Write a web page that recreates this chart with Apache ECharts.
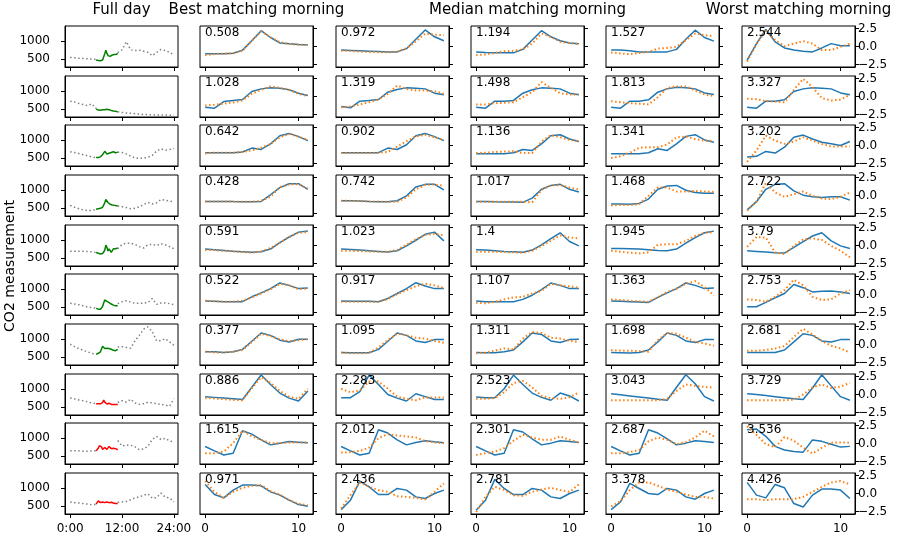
<!DOCTYPE html>
<html>
<head>
<meta charset="utf-8">
<script src="https://cdn.jsdelivr.net/npm/echarts@6/dist/echarts.min.js"></script>
<style>
html, body { margin: 0; padding: 0; background: #ffffff; }
#chart { width: 898px; height: 539px; }
</style>
</head>
<body>
<div id="chart"></div>
<script>
// ---------- column headings and axis text ----------
const columnTitles = ['Full day', 'Best matching morning', 'Median matching morning', 'Worst matching morning'];
const yAxisTitle = 'CO2 measurement';

// ---------- time grids ----------
const dayHours = [0, 1, 2, 3, 4, 5, 6, 7, 8, 9, 10, 11, 12, 13, 14, 15, 16, 17, 18, 19, 20, 21, 22, 23, 24];
const morningTimes = [6, 6.25, 6.5, 6.75, 7, 7.25, 7.5, 7.75, 8, 8.25, 8.5, 8.75, 9, 9.25, 9.5, 9.75, 10, 10.25, 10.5, 10.75, 11];
const morningSteps = [0, 1, 2, 3, 4, 5, 6, 7, 8, 9, 10, 11];
const dayTickHours = [0, 12, 24];
const dayTickCo2 = [500, 1000];
const stepTicks = [0, 10];
const scoreTicks = [-2.5, 0, 2.5];

// ---------- distance scores (best, 2 x median, worst) ----------
const scores = [
  ['0.508', '0.972', '1.194', '1.527', '2.544'],
  ['1.028', '1.319', '1.498', '1.813', '3.327'],
  ['0.642', '0.902', '1.136', '1.341', '3.202'],
  ['0.428', '0.742', '1.017', '1.468', '2.722'],
  ['0.591', '1.023', '1.4', '1.945', '3.79'],
  ['0.522', '0.917', '1.107', '1.363', '2.753'],
  ['0.377', '1.095', '1.311', '1.698', '2.681'],
  ['0.886', '2.283', '2.523', '3.043', '3.729'],
  ['1.615', '2.012', '2.301', '2.687', '3.536'],
  ['0.971', '2.436', '2.781', '3.378', '4.426']
];

// morning colour per day: green = good match, red = poor match
const morningColors = ['green', 'green', 'green', 'green', 'green', 'green', 'green', 'red', 'red', 'red'];

// ---------- full-day CO2 (hourly, morning gap) and morning detail (15 min) ----------
const day1Gray = [550, 540, 530, 525, 515, 505, 495, null, null, null, null, 680, 760, 980, 760, 740, 750, 720, 690, 600, 690, 770, 740, 690, 620];
const day1Morning = [480, 475, 470, 465, 460, 470, 480, 520, 650, 750, 660, 600, 580, 580, 600, 620, 640, 630, 620, 640, 660];
const day2Gray = [720, 700, 660, 630, 600, 650, 520, null, null, null, null, 430, 415, 400, 390, 380, 370, 360, 355, 350, 345, 345, 345, 340, 340];
const day2Morning = [510, 490, 480, 470, 475, 480, 485, 490, 490, 495, 500, 495, 490, 480, 470, 460, 455, 450, 445, 435, 430];
const day3Gray = [680, 660, 630, 600, 570, 540, 520, null, null, null, null, 670, 660, 620, 560, 510, 500, 500, 530, 580, 700, 760, 720, 740, 770];
const day3Morning = [520, 515, 520, 530, 540, 560, 600, 650, 690, 670, 620, 600, 640, 680, 660, 640, 680, 670, 650, 660, 670];
const day4Gray = [580, 530, 490, 455, 440, 440, 470, null, null, null, null, 560, 545, 520, 490, 500, 540, 600, 660, 620, 650, 740, 720, 700, 670];
const day4Morning = [475, 480, 490, 495, 500, 510, 530, 560, 650, 740, 720, 660, 620, 610, 600, 590, 590, 580, 575, 570, 560];
const day5Gray = [690, 690, 690, 690, 685, 680, 660, null, null, null, null, 760, 880, 910, 910, 880, 820, 780, 870, 880, 850, 900, 870, 820, 760];
const day5Morning = [660, 650, 640, 630, 620, 625, 630, 620, 720, 860, 800, 700, 760, 720, 660, 700, 760, 800, 760, 740, 780];
const day6Gray = [610, 590, 570, 540, 510, 490, 475, null, null, null, null, 600, 650, 680, 640, 610, 610, 610, 630, 740, 580, 620, 620, 600, 570];
const day6Morning = [470, 460, 450, 445, 450, 480, 520, 620, 700, 710, 660, 650, 630, 620, 590, 570, 560, 550, 540, 540, 540];
const day7Gray = [860, 790, 740, 690, 650, 610, 580, null, null, null, null, 780, 790, 770, 750, 950, 1100, 1270, 1330, 1200, 950, 960, 1010, 920, 830];
const day7Morning = [580, 590, 610, 630, 650, 700, 800, 760, 740, 770, 750, 720, 740, 740, 720, 700, 690, 680, 680, 700, 720];
const day8Gray = [760, 730, 700, 680, 650, 620, 600, null, null, null, null, 630, 680, 640, 720, 620, 580, 600, 640, 620, 600, 580, 560, 530, 740];
const day8Morning = [600, 600, 595, 590, 595, 610, 630, 700, 640, 600, 590, 580, 610, 600, 580, 575, 580, 585, 575, 575, 580];
const day9Gray = [655, 655, 650, 640, 640, 645, 655, null, null, null, null, 930, 780, 810, 800, 760, 680, 700, 780, 960, 1040, 960, 990, 920, 890];
const day9Morning = [650, 680, 720, 790, 840, 760, 690, 700, 740, 720, 690, 720, 770, 740, 710, 700, 720, 720, 710, 690, 680];
const day10Gray = [620, 600, 590, 575, 560, 545, 550, null, null, null, null, 610, 620, 630, 680, 730, 760, 800, 840, 720, 740, 860, 750, 730, 620];
const day10Morning = [560, 600, 650, 620, 600, 610, 620, 610, 600, 610, 620, 610, 600, 610, 610, 600, 590, 580, 575, 570, 575];

// ---------- normalised mornings: solid = this day, dotted = matched day ----------
const match1Solid = [
  [-1.0, -1.0, -1.0, -0.95, -0.5, 0.8, 2.2, 1.25, 0.5, 0.37, 0.28, 0.2],
  [-0.5, -0.55, -0.6, -0.65, -0.7, -0.75, -0.75, -0.3, 1.0, 2.3, 1.35, 0.8],
  [-0.75, -0.83, -0.87, -0.88, -0.88, -0.4, 0.9, 2.2, 1.35, 0.8, 0.5, 0.37],
  [-0.5, -0.5, -0.6, -0.75, -0.75, -0.75, -0.75, -0.4, 1.0, 2.27, 1.25, 0.75],
  [-1.9, 0.4, 2.36, 0.65, -0.2, -0.5, -0.65, -0.75, -0.2, 0.4, 0.1, 0.1]
];
const match1Dotted = [
  [-1.2, -1.05, -1.0, -0.95, -0.6, 0.8, 2.1, 1.3, 0.6, 0.35, 0.25, 0.2],
  [-0.6, -0.6, -0.7, -0.75, -0.8, -0.8, -0.7, -0.25, 0.7, 1.8, 1.65, 1.55],
  [-1.2, -1.1, -0.9, -0.65, -0.6, -0.4, 0.4, 1.8, 1.35, 0.65, 0.5, 0.3],
  [-0.83, -0.97, -1.07, -0.9, -0.75, -0.3, -0.2, -0.05, 0.9, 1.8, 1.57, 1.45],
  [-2.1, 0.3, 2.2, 0.9, 0.05, 0.4, 0.75, 0.4, -0.5, -0.5, -0.05, 0.4]
];
const match2Solid = [
  [-1.48, -1.62, -0.7, -0.55, -0.42, 0.7, 1.06, 1.2, 1.15, 0.93, 0.46, 0.14],
  [-1.4, -1.57, -0.65, -0.55, -0.42, 0.6, 0.97, 1.2, 1.15, 1.06, 0.46, 0.23],
  [-1.5, -1.62, -0.65, -0.65, -0.55, 0.46, 0.93, 1.2, 1.15, 1.06, 0.46, 0.23],
  [-1.5, -1.62, -0.65, -0.65, -0.46, 0.6, 1.06, 1.3, 1.2, 1.06, 0.5, 0.28],
  [-1.5, -1.62, -0.65, -0.65, -0.46, 0.7, 1.06, 1.2, 1.15, 1.06, 0.5, 0.23]
];
const match2Dotted = [
  [-1.25, -1.15, -1.0, -0.83, -0.55, 0.37, 0.93, 1.4, 1.2, 0.93, 0.37, 0.05],
  [-1.5, -1.4, -1.1, -0.8, -0.42, 0.37, 1.53, 1.06, 0.83, 0.83, 0.74, 0.37],
  [-1.1, -1.1, -0.93, -0.88, -0.8, -0.1, 0.6, 2.0, 1.2, 0.46, 0.28, 0.28],
  [-0.65, -0.8, -0.93, -1.0, -1.1, -0.1, 1.2, 1.4, 1.4, 0.83, 0.28, 0.05],
  [-0.32, -0.37, -0.65, -0.7, -0.8, 0.93, 2.45, 1.3, -0.23, -0.55, -0.42, 0.23]
];
const match3Solid = [
  [-1.0, -1.0, -1.0, -1.0, -0.9, -0.36, -0.55, 0.23, 1.36, 1.68, 1.23, 0.68],
  [-1.0, -1.0, -1.0, -1.0, -1.0, -0.36, -0.55, 0.1, 1.36, 1.68, 1.23, 0.68],
  [-1.14, -1.14, -1.14, -1.14, -1.0, -0.55, -0.68, 0.23, 1.36, 1.5, 0.9, 0.55],
  [-1.14, -1.14, -1.14, -1.14, -1.0, -0.45, -0.68, 0.23, 1.27, 1.5, 0.77, 0.45],
  [-1.6, -1.5, -0.82, -1.05, -0.23, 1.14, 1.45, 0.9, 0.45, 0.23, 0.0, 0.55]
];
const match3Dotted = [
  [-1.1, -1.0, -1.0, -1.0, -0.9, -0.68, -0.32, 0.23, 1.14, 1.6, 1.23, 0.77],
  [-1.05, -1.05, -1.05, -1.05, -1.0, -0.9, -0.14, 0.6, 1.27, 1.5, 1.14, 0.77],
  [-1.05, -1.0, -0.9, -0.85, -0.8, -1.05, -1.05, 0.55, 1.45, 1.14, 0.77, 0.6],
  [-1.73, -1.5, -1.0, -0.32, -0.23, -0.23, 0.14, 1.14, 1.23, 0.9, 0.68, 0.6],
  [-2.27, -0.68, 1.36, 0.68, 0.23, 0.55, 1.14, 0.68, 0.23, -0.14, -0.14, -0.14]
];
const match4Solid = [
  [-0.82, -0.82, -0.82, -0.85, -0.86, -0.86, -0.82, 0.1, 1.1, 1.64, 1.64, 0.86],
  [-0.73, -0.73, -0.77, -0.82, -0.86, -0.86, -0.73, -0.05, 1.18, 1.55, 1.55, 0.77],
  [-0.82, -0.85, -0.88, -0.9, -0.92, -0.95, -0.36, 0.86, 1.4, 1.55, 0.86, 0.5],
  [-1.18, -1.18, -1.22, -1.1, -0.5, 0.86, 1.32, 1.4, 0.73, 0.41, 0.32, 0.32],
  [-2.0, -0.86, 0.86, 1.55, 1.64, 0.64, 0.05, -0.18, -0.27, -0.18, -0.18, -0.64]
];
const match4Dotted = [
  [-0.82, -0.82, -0.84, -0.85, -0.86, -0.86, -0.73, -0.18, 1.18, 1.55, 1.55, 0.95],
  [-0.73, -0.75, -0.78, -0.82, -0.85, -0.86, -0.86, -0.27, 0.86, 1.45, 1.55, 1.32],
  [-0.86, -0.86, -0.86, -0.86, -0.86, -0.86, -0.95, 0.77, 1.4, 1.45, 1.1, 0.86],
  [-1.4, -1.32, -1.32, -1.18, -0.05, 1.1, 1.1, 0.55, 0.55, 0.64, 0.55, 0.5],
  [-2.1, -0.86, 1.77, 0.41, -0.18, 0.18, 0.55, -0.05, -0.41, -0.5, -0.18, 0.41]
];
const match5Solid = [
  [-0.5, -0.6, -0.7, -0.8, -0.86, -0.95, -0.86, -0.5, 0.41, 1.18, 1.86, 2.0],
  [-0.5, -0.55, -0.64, -0.73, -0.82, -0.91, -0.73, -0.05, 0.73, 1.55, 1.86, 0.64],
  [-0.6, -0.64, -0.73, -0.82, -0.86, -0.95, -0.64, 0.1, 0.95, 1.77, 0.55, -0.05],
  [-0.41, -0.41, -0.45, -0.5, -0.59, -0.68, -0.73, -0.5, 0.32, 1.1, 1.77, 2.0],
  [-0.73, -0.82, -0.91, -1.0, -1.05, -0.27, 0.55, 1.32, 1.77, 0.64, -0.05, -0.41]
];
const match5Dotted = [
  [-0.64, -0.64, -0.73, -0.82, -0.91, -1.0, -0.82, -0.36, 0.41, 1.18, 1.77, 1.86],
  [-0.73, -0.73, -0.78, -0.82, -0.86, -0.86, -0.64, 0.1, 0.86, 1.45, 1.64, 1.41],
  [-0.86, -0.86, -0.86, -0.91, -0.95, -1.0, -0.73, -0.05, 0.64, 1.41, 1.1, 1.0],
  [-0.73, -0.86, -1.0, -1.1, -0.95, 0.1, 0.18, 0.18, 0.64, 1.32, 1.77, 1.86],
  [-0.18, 1.18, 1.1, -0.95, -1.18, -0.05, 0.86, 1.0, 0.77, -0.05, -0.73, -1.64]
];
const match6Solid = [
  [-0.9, -0.95, -1.0, -1.0, -1.0, -0.32, 0.23, 0.82, 1.6, 1.27, 0.82, 0.9],
  [-0.9, -0.95, -0.95, -0.95, -1.0, -0.55, 0.14, 0.82, 1.64, 1.18, 0.82, 0.82],
  [-0.9, -1.0, -1.0, -1.0, -1.0, -0.68, -0.1, 0.68, 1.6, 1.27, 0.82, 0.82],
  [-0.9, -0.95, -1.0, -1.05, -1.1, -0.4, 0.23, 0.82, 1.6, 1.27, 0.82, 0.9],
  [-1.7, -1.7, -1.1, -0.45, 0.14, 1.4, 0.95, 0.36, 0.45, 0.5, 0.36, 0.14]
];
const match6Dotted = [
  [-0.86, -0.95, -1.0, -1.0, -0.86, -0.4, 0.14, 0.73, 1.5, 1.27, 0.73, 0.82],
  [-1.0, -1.0, -1.0, -1.0, -1.0, -0.64, 0.05, 0.6, 1.14, 1.5, 1.27, 0.9],
  [-1.14, -1.23, -1.0, -0.68, -0.4, -0.32, 0.14, 0.5, 1.5, 1.27, 1.14, 0.95],
  [-0.68, -0.77, -0.86, -0.95, -1.0, -0.4, 0.36, 0.82, 1.5, 1.86, 1.05, -0.1],
  [-0.68, -0.77, -1.0, -0.32, 0.6, 2.05, 1.27, -0.32, -0.77, -0.68, 0.14, 0.6]
];
const match7Solid = [
  [-1.0, -1.0, -1.1, -1.0, -0.68, 0.45, 1.6, 1.27, 0.6, 0.36, 0.73, 0.73],
  [-1.1, -1.14, -1.14, -1.14, -0.68, 0.45, 1.6, 1.27, 0.5, 0.27, 0.68, 0.68],
  [-1.1, -1.14, -1.14, -1.0, -0.77, 0.36, 1.6, 1.4, 0.5, 0.27, 0.68, 0.73],
  [-1.1, -1.14, -1.18, -1.1, -0.77, 0.36, 1.6, 1.27, 0.5, 0.27, 0.68, 0.68],
  [-1.1, -1.1, -1.1, -1.1, -0.77, 0.36, 1.5, 1.27, 0.5, 0.36, 0.68, 0.68]
];
const match7Dotted = [
  [-1.0, -1.1, -1.1, -1.0, -0.77, 0.36, 1.5, 1.18, 0.73, 0.45, 0.6, 0.73],
  [-1.14, -1.23, -1.23, -1.14, -0.4, 0.6, 1.5, 1.27, 0.95, 0.82, 0.5, 0.23],
  [-1.23, -1.14, -0.86, -0.55, -0.68, 0.82, 1.73, 1.6, 0.95, 0.82, 0.5, 0.36],
  [-0.77, -0.86, -0.86, -0.91, -1.0, 0.6, 1.6, 1.5, 0.95, 0.36, 0.14, -0.18],
  [-0.86, -0.86, -0.77, -0.55, -0.23, 1.05, 2.18, 1.4, 0.5, -0.18, -0.55, -1.1]
];
const match8Solid = [
  [-0.3, -0.4, -0.5, -0.6, -0.7, 1.0, 2.7, 1.4, 0.2, -0.5, -0.9, 0.5],
  [-0.45, -0.45, 0.4, 2.7, 1.4, 0.0, -0.5, -0.9, 0.1, -0.3, -0.7, -0.7],
  [-0.35, -0.45, -0.45, 0.8, 2.7, 1.4, 0.2, -0.4, -0.8, 0.2, -0.2, -0.9],
  [0.1, -0.05, -0.2, -0.35, -0.5, -0.65, -0.8, 1.0, 2.75, 1.5, -0.3, -0.9],
  [0.1, 0.0, -0.15, -0.3, -0.45, -0.6, -0.7, 0.9, 2.75, 1.2, -0.3, -0.8]
];
const match8Dotted = [
  [-0.5, -0.55, -0.65, -0.75, -0.8, 0.9, 2.4, 1.6, 0.5, -0.3, -0.6, 0.8],
  [0.8, 0.3, 0.6, 1.8, 1.8, 0.8, -0.3, -0.6, -0.8, -0.4, -0.4, -0.4],
  [-0.6, -0.6, -0.5, 0.3, 1.6, 1.9, 1.0, -0.2, -0.5, -0.6, -0.4, 0.3],
  [-0.8, -0.8, -0.8, -0.8, -0.8, -0.8, -0.6, 0.5, 1.4, 1.2, 1.05, 0.95],
  [-0.8, -0.8, -0.8, -0.8, -0.8, -0.7, 0.0, 1.0, 1.4, 0.9, 1.1, 1.6]
];
const match9Solid = [
  [-0.42, -1.03, -1.6, -1.35, 1.78, 1.3, 0.51, -0.19, 0.05, 0.28, 0.19, 0.1],
  [-0.42, -1.03, -1.6, -1.35, 1.92, 1.45, 0.51, -0.19, 0.14, 0.37, 0.23, 0.1],
  [-0.42, -1.03, -1.6, -1.35, 1.92, 1.6, 0.65, -0.19, 0.05, 0.37, 0.28, 0.14],
  [-0.42, -1.03, -1.6, -1.35, 1.92, 1.45, 0.65, -0.19, 0.05, 0.37, 0.28, 0.14],
  [1.9, 2.0, 1.0, -0.4, -0.9, -1.1, -1.2, 0.5, 0.3, -0.1, -0.5, -0.4]
];
const match9Dotted = [
  [-1.35, -1.35, -1.12, 0.05, 1.78, 0.98, 0.51, 0.05, 0.05, 0.14, 0.14, 0.14],
  [-1.26, -1.2, -1.03, -0.56, 0.75, 1.3, 1.12, 0.98, 0.84, 0.37, 0.14, 0.05],
  [-1.6, -1.35, -1.12, -0.65, 0.37, 1.21, 0.84, 0.51, 0.51, 0.98, 0.51, 0.14],
  [-1.35, -1.35, -1.2, -0.89, 0.28, 0.84, 0.51, -0.09, 0.19, 0.84, 1.78, 0.98],
  [2.4, 1.2, -0.1, -0.5, 0.9, 0.4, -0.6, -1.4, -0.6, 0.1, 0.15, 0.1]
];
const match10Solid = [
  [1.26, -0.14, -0.61, 0.47, 1.17, 1.17, 1.07, 0.23, -0.23, -0.93, -1.54, -1.78],
  [-2.24, -0.93, 1.73, 0.93, -0.14, -0.14, 0.7, 0.47, -0.47, -0.7, 0.0, 0.47],
  [-2.34, -0.93, 1.96, 0.7, -0.14, -0.14, 0.7, 0.47, -0.47, -0.7, 0.0, 0.47],
  [-2.24, -1.17, 1.4, 0.7, 0.0, -0.14, 0.7, 0.47, -0.47, -0.79, 0.0, 0.47],
  [1.54, -0.23, -0.61, 1.26, 0.79, -1.4, -1.87, -0.23, 0.61, 0.61, 0.47, -0.7]
];
const match10Dotted = [
  [1.73, 0.23, -0.61, 0.23, 0.79, 1.07, 1.17, 0.33, -0.14, -0.93, -1.4, -1.64],
  [-2.1, -0.23, 1.54, 0.93, 0.47, 0.23, -0.37, -0.47, -0.61, -0.84, 0.23, 1.4],
  [-2.57, -0.47, 0.93, 0.47, -0.23, -0.33, 0.23, 0.56, 0.79, 0.47, 0.23, 1.26],
  [-1.78, -1.07, 0.47, 1.54, 1.54, 1.07, 0.56, 0.23, -0.14, -0.47, -0.47, -0.7],
  [-0.79, -0.79, -0.93, -0.79, -0.79, -0.79, -0.47, 0.23, 0.93, 1.54, 1.73, 1.26]
];

const dayGray = [day1Gray, day2Gray, day3Gray, day4Gray, day5Gray, day6Gray, day7Gray, day8Gray, day9Gray, day10Gray];
const dayMorning = [day1Morning, day2Morning, day3Morning, day4Morning, day5Morning, day6Morning, day7Morning, day8Morning, day9Morning, day10Morning];
const matchSolid = [match1Solid, match2Solid, match3Solid, match4Solid, match5Solid, match6Solid, match7Solid, match8Solid, match9Solid, match10Solid];
const matchDotted = [match1Dotted, match2Dotted, match3Dotted, match4Dotted, match5Dotted, match6Dotted, match7Dotted, match8Dotted, match9Dotted, match10Dotted];

// ---------- layout ----------
const FONT = 'DejaVu Sans';
const ROWS = 10, COLS = 6;
const PANEL_W = 113, PANEL_H = 41;
const panelLeft = c => Math.round(65 + c * 135.35);
const panelTop = r => Math.round(26 + r * 49.67);
const INK = '#000000';
const TICK_FONT = 12;

const zip = (xs, ys) => xs.map((x, i) => [x, ys[i]]);
const fmtScore = v => (v < 0 ? '\u2212' : '') + Math.abs(v).toFixed(1);

const grids = [], xAxes = [], yAxes = [], series = [], graphics = [];

for (let r = 0; r < ROWS; r++) {
  for (let c = 0; c < COLS; c++) {
    const idx = r * COLS + c;
    const isDay = c === 0;
    grids.push({
      left: panelLeft(c), top: panelTop(r), width: PANEL_W, height: PANEL_H,
      show: true, borderColor: INK, borderWidth: 1, backgroundColor: 'transparent'
    });
    const xt = isDay ? dayTickHours : stepTicks;
    xAxes.push({
      gridIndex: idx, type: 'value',
      min: isDay ? -1.2 : -0.55, max: isDay ? 24.95 : 11.55,
      axisLine: { show: true, onZero: false, lineStyle: { color: INK, width: 1 } },
      axisTick: { show: true, inside: false, length: 4, customValues: xt, lineStyle: { color: INK, width: 1 } },
      axisLabel: {
        show: r === ROWS - 1, customValues: xt, margin: 9,
        fontFamily: FONT, fontSize: TICK_FONT, color: INK,
        formatter: v => isDay ? v + ':00' : String(v)
      },
      splitLine: { show: false }
    });
    const yt = isDay ? dayTickCo2 : scoreTicks;
    yAxes.push({
      gridIndex: idx, type: 'value',
      position: isDay ? 'left' : 'right',
      min: isDay ? 290 : -2.85, max: isDay ? 1410 : 2.85,
      axisLine: { show: true, onZero: false, lineStyle: { color: INK, width: 1 } },
      axisTick: { show: true, inside: false, length: 4, customValues: yt, lineStyle: { color: INK, width: 1 } },
      axisLabel: {
        show: isDay || c === COLS - 1, customValues: yt, margin: isDay ? 15 : 3,
        fontFamily: FONT, fontSize: TICK_FONT, color: INK,
        formatter: v => isDay ? String(v) : fmtScore(v)
      },
      splitLine: { show: false }
    });

    if (isDay) {
      series.push({
        type: 'line', xAxisIndex: idx, yAxisIndex: idx,
        data: zip(dayHours, dayGray[r]), showSymbol: false, symbol: 'none',
        connectNulls: false, silent: true,
        lineStyle: { color: 'gray', width: 1.5, type: [1.5, 2.5], cap: 'butt' }
      });
      series.push({
        type: 'line', xAxisIndex: idx, yAxisIndex: idx,
        data: zip(morningTimes, dayMorning[r]), showSymbol: false, symbol: 'none', silent: true,
        lineStyle: { color: morningColors[r], width: 1.5 }
      });
    } else {
      series.push({
        type: 'line', xAxisIndex: idx, yAxisIndex: idx,
        data: zip(morningSteps, matchSolid[r][c - 1]), showSymbol: false, symbol: 'none', silent: true,
        lineStyle: { color: '#1f77b4', width: 1.5 }
      });
      series.push({
        type: 'line', xAxisIndex: idx, yAxisIndex: idx,
        data: zip(morningSteps, matchDotted[r][c - 1]), showSymbol: false, symbol: 'none', silent: true,
        lineStyle: { color: '#ff7f0e', width: 2, type: [1.5, 2.5], cap: 'butt' }
      });
      graphics.push({
        type: 'text', x: panelLeft(c) + 5, y: panelTop(r) + 1, z: 100,
        style: { text: scores[r][c - 1], fontFamily: FONT, fontSize: 12, fill: INK, textVerticalAlign: 'top' }
      });
    }
  }
}

// column headings: full day, best, median (centred on the 2nd median column), worst
const titleCols = [0, 1, 3, 5];
titleCols.forEach((c, i) => {
  graphics.push({
    type: 'text', x: panelLeft(c) + PANEL_W / 2, y: 3,
    style: { text: columnTitles[i], fontFamily: FONT, fontSize: 15, fill: INK, textAlign: 'center', textVerticalAlign: 'top' }
  });
});
graphics.push({
  type: 'text', x: 10, y: 266, rotation: Math.PI / 2,
  style: { text: yAxisTitle, fontFamily: FONT, fontSize: 14, fill: INK, textAlign: 'center', textVerticalAlign: 'middle' }
});

const chart = echarts.init(document.getElementById('chart'), null, { renderer: 'canvas' });
chart.setOption({
  animation: false,
  backgroundColor: '#ffffff',
  grid: grids,
  xAxis: xAxes,
  yAxis: yAxes,
  series: series,
  graphic: graphics
});
</script>
</body>
</html>
